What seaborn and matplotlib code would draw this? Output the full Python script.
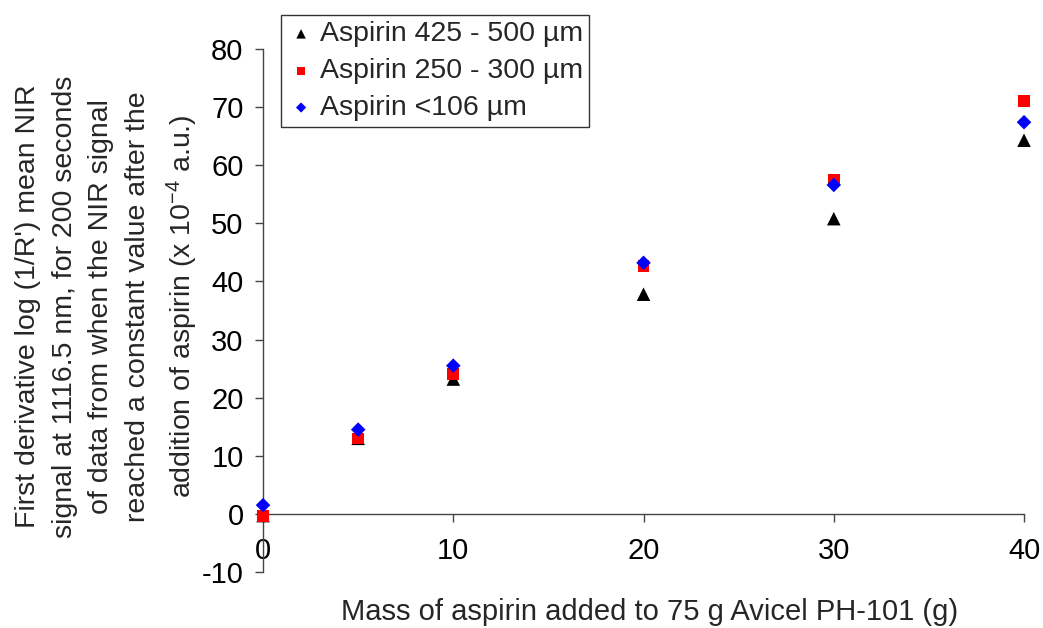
import matplotlib
matplotlib.use("Agg")
import matplotlib.pyplot as plt
import seaborn as sns
import pandas as pd

sns.set_style("white")
plt.rcParams["font.family"] = ["Liberation Sans", "DejaVu Sans"]
plt.rcParams["mathtext.fontset"] = "custom"
plt.rcParams["mathtext.rm"] = "Liberation Sans"
plt.rcParams["mathtext.it"] = "Liberation Sans"
plt.rcParams["axes.unicode_minus"] = False

# Mass of aspirin added (g)
mass = [0, 5, 10, 20, 30, 40]

# Mean first-derivative NIR signal (x 10^-4 a.u.) for each particle size
coarse = [-0.3, 13.0, 23.2, 37.8, 50.8, 64.3]     # 425 - 500 um
medium = [-0.4, 13.0, 24.1, 42.7, 57.5, 71.0]     # 250 - 300 um
fine = [1.5, 14.5, 25.5, 43.2, 56.6, 67.4]        # <106 um

labels = ["Aspirin 425 - 500 µm", "Aspirin 250 - 300 µm", "Aspirin <106 µm"]
colors = ["black", "#ff0000", "#0000ff"]
markers = ["^", "s", "D"]
sizes = [95, 70, 55]

frames = []
for lab, vals in zip(labels, [coarse, medium, fine]):
    frames.append(pd.DataFrame({"mass": mass, "signal": vals, "series": lab}))
df = pd.concat(frames, ignore_index=True)

fig = plt.figure(figsize=(10.43, 6.28), dpi=100)
ax = fig.add_axes([0.2522, 0.0892, 0.7296, 0.8328])

for lab, col, mk, sz in zip(labels, colors, markers, sizes):
    sub = df[df["series"] == lab]
    sns.scatterplot(data=sub, x="mass", y="signal", ax=ax, color=col,
                    marker=mk, s=sz, edgecolor="none", label=lab, zorder=3,
                    clip_on=False)

ax.set_xlim(0, 40)
ax.set_ylim(-10, 80)
ax.set_xticks([0, 10, 20, 30, 40])
ax.set_yticks(range(-10, 81, 10))

for side in ["top", "right"]:
    ax.spines[side].set_visible(False)
ax.spines["bottom"].set_position(("data", 0))
ax.spines["left"].set_color("#444444")
ax.spines["bottom"].set_color("#444444")
ax.spines["left"].set_linewidth(1.0)
ax.spines["bottom"].set_linewidth(1.0)

ax.tick_params(axis="both", which="major", labelsize=21, direction="out",
               length=6, width=1.0, color="#444444", labelcolor="black",
               left=True, bottom=True)
ax.tick_params(axis="x", pad=11)
ax.tick_params(axis="y", pad=8)

ax.set_xlabel("")
ax.set_ylabel("")
fig.text(0.623, 0.003, "Mass of aspirin added to 75 g Avicel PH-101 (g)",
         ha="center", va="bottom", fontsize=21)
fig.text(0.103, 0.512,
         "First derivative log (1/R') mean NIR\n"
         "signal at 1116.5 nm, for 200 seconds\n"
         "of data from when the NIR signal\n"
         "reached a constant value after the\n"
         "addition of aspirin (x 10$^{-4}$ a.u.)",
         rotation=90, ha="center", va="center", fontsize=20.5,
         multialignment="center", linespacing=1.52)

leg = ax.legend(loc="upper left", bbox_to_anchor=(0.269, 0.976),
                bbox_transform=fig.transFigure, fontsize=20.5, frameon=True,
                fancybox=False, edgecolor="black", markerscale=0.7,
                handletextpad=0.15, borderpad=0.22, labelspacing=0.38,
                handlelength=1.0, borderaxespad=0)
leg.get_frame().set_linewidth(1.0)

fig.savefig("out.png", dpi=100)
